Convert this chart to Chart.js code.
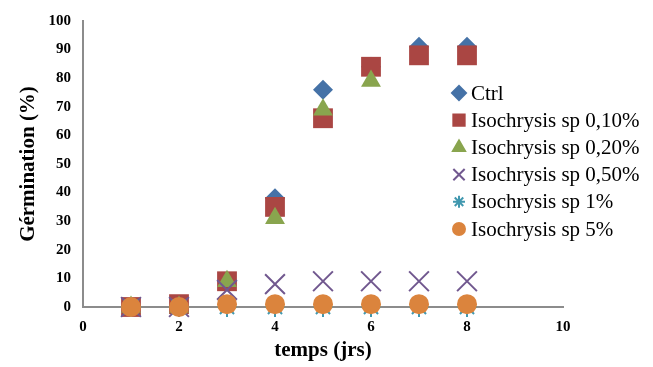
<!DOCTYPE html>
<html>
<head>
<meta charset="utf-8">
<script src="https://cdn.jsdelivr.net/npm/chart.js@4/dist/chart.umd.min.js"></script>
<style>
  html, body { margin: 0; padding: 0; background: #fff; }
  #wrap { width: 653px; height: 367px; position: relative; }
</style>
</head>
<body>
<div id="wrap"><canvas id="c" width="653" height="367"></canvas></div>
<script>
const days = [1, 2, 3, 4, 5, 6, 7, 8];
const seriesNames = ['Ctrl', 'Isochrysis sp 0,10%', 'Isochrysis sp 0,20%', 'Isochrysis sp 0,50%', 'Isochrysis sp 1%', 'Isochrysis sp 5%'];
const ctrl   = [0, 0, 9, 38, 76, 84, 91, 91];
const iso010 = [0, 1, 9, 35, 66, 84, 88, 88];
const iso020 = [0, 0, 9, 31, 69, 79, null, null];
const iso050 = [0, 0, 6, 8, 9, 9, 9, 9];
const iso1   = [0, 0, 0, 0, 0, 0, 0, 0];
const iso5   = [0, 0, 1, 1, 1, 1, 1, 1];
const xTitle = 'temps (jrs)';
const yTitle = 'Gérmination (%)';

const allValues = [ctrl, iso010, iso020, iso050, iso1, iso5];
const colors = ['#4572A7', '#AA4643', '#89A54E', '#71588F', '#4198AF', '#DB843D'];
const styles = ['rectRot', 'rect', 'triangle', 'crossRot', 'star', 'circle'];
const radii  = [10, 14, 11.5, 14, 10, 10];
const legendRadii = [7, 8, 7, 8, 6, 6];

const datasets = allValues.map((vals, i) => ({
  label: seriesNames[i],
  data: days.map((d, j) => ({ x: d, y: vals[j] })),
  pointStyle: styles[i],
  pointRadius: radii[i],
  pointHoverRadius: radii[i],
  backgroundColor: colors[i],
  borderColor: colors[i],
  borderWidth: (styles[i] === 'crossRot' || styles[i] === 'star') ? 2 : 0,
  showLine: false,
  clip: false,
  order: allValues.length - i
}));

const legendPlugin = {
  id: 'customLegend',
  afterDraw(chart) {
    const ctx = chart.ctx;
    const x0 = 459, y0 = 93, step = 27.2;
    ctx.save();
    ctx.font = '21px "Liberation Serif", "Times New Roman", serif';
    ctx.textBaseline = 'middle';
    seriesNames.forEach((name, i) => {
      const y = y0 + i * step;
      ctx.fillStyle = colors[i];
      ctx.strokeStyle = colors[i];
      ctx.lineWidth = (styles[i] === 'crossRot' || styles[i] === 'star') ? 2 : 0;
      Chart.helpers.drawPoint(ctx, { pointStyle: styles[i], radius: legendRadii[i], rotation: 0, borderWidth: ctx.lineWidth }, x0, y);
      ctx.fillStyle = '#000';
      ctx.fillText(name, x0 + 12, y + 1);
    });
    ctx.restore();
  }
};

const tickFont = { family: '"Liberation Serif", serif', size: 15, weight: 'bold' };
const titleFont = { family: '"Liberation Serif", serif', size: 21, weight: 'bold' };

new Chart(document.getElementById('c'), {
  type: 'scatter',
  data: { datasets },
  options: {
    responsive: false,
    animation: false,
    layout: { padding: { left: 0, right: 90, top: 15, bottom: 0 } },
    plugins: { legend: { display: false }, tooltip: { enabled: false } },
    scales: {
      x: {
        type: 'linear', min: 0, max: 10,
        ticks: { stepSize: 2, color: '#000', padding: 11, font: tickFont },
        grid: { display: false, drawTicks: false, tickLength: 0 },
        border: { color: '#8c8c8c', width: 2 },
        title: { display: true, text: xTitle, color: '#000', padding: { top: 9 }, font: titleFont },
        afterFit(s) { s.height = 60; }
      },
      y: {
        type: 'linear', min: 0, max: 100,
        ticks: { stepSize: 10, color: '#000', padding: 12, font: tickFont },
        grid: { display: false, drawTicks: false, tickLength: 0 },
        border: { color: '#8c8c8c', width: 2 },
        title: { display: true, text: yTitle, color: '#000', padding: { top: 16, bottom: 0 }, font: titleFont },
        afterFit(s) { s.width = 83; }
      }
    }
  },
  plugins: [legendPlugin]
});
</script>
</body>
</html>
